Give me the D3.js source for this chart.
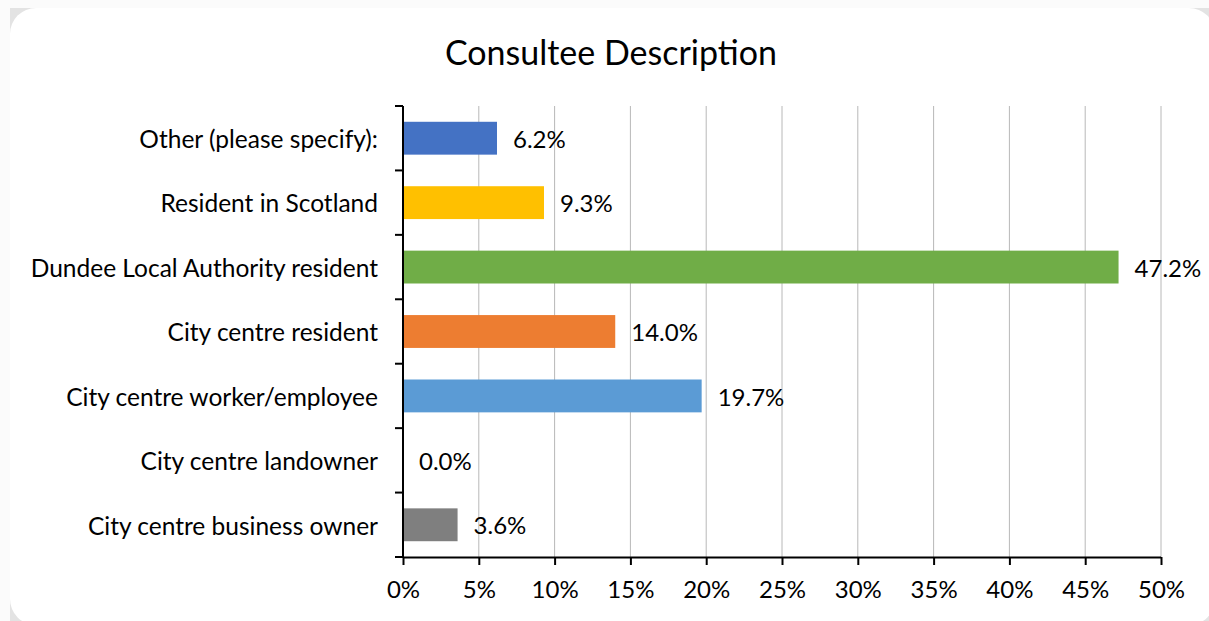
<!DOCTYPE html>
<html>
<head>
<meta charset="utf-8">
<script src="https://cdn.jsdelivr.net/npm/d3@7"></script>
<style>
  html, body { margin: 0; padding: 0; background: #fbfbfb; }
  svg { display: block; }
  text { font-family: Lato, "Open Sans", sans-serif; fill: #000; }
</style>
</head>
<body>
<svg id="chart" width="1209" height="621"></svg>
<script>
// Survey responses: share of consultees by description (top to bottom)
const categories = [
  "Other (please specify):",
  "Resident in Scotland",
  "Dundee Local Authority resident",
  "City centre resident",
  "City centre worker/employee",
  "City centre landowner",
  "City centre business owner"
];
const values = [6.2, 9.3, 47.2, 14.0, 19.7, 0.0, 3.6];
const barColors = ["#4472C4", "#FFC000", "#70AD47", "#ED7D31", "#5B9BD5", "#A5A5A5", "#7F7F7F"];
const xTicks = [0, 5, 10, 15, 20, 25, 30, 35, 40, 45, 50];
const title = "Consultee Description";

const W = 1209, H = 621;
const plot = { left: 403, right: 1161, top: 106, bottom: 557 };
const fontSize = 24;

const svg = d3.select("#chart");

// Card background with rounded corners
svg.append("rect").attr("x", 10).attr("y", 8).attr("width", W).attr("height", H)
  .attr("fill", "#e3e3e3");
svg.append("rect").attr("x", 10).attr("y", 8).attr("width", 1205).attr("height", 617)
  .attr("rx", 26).attr("ry", 26).attr("fill", "#ffffff");

const x = d3.scaleLinear().domain([0, 50]).range([plot.left, plot.right]);
const y = d3.scaleBand().domain(categories).range([plot.top, plot.bottom]).paddingInner(0.49).paddingOuter(0.245);
const yBands = d3.scaleBand().domain(categories).range([plot.top, plot.bottom]);

// Vertical gridlines
svg.append("g").selectAll("line").data(xTicks.slice(1)).join("line")
  .attr("x1", d => x(d)).attr("x2", d => x(d))
  .attr("y1", plot.top).attr("y2", plot.bottom)
  .attr("stroke", "#b8b8b8").attr("stroke-width", 1);

// Bars
svg.append("g").selectAll("rect").data(values).join("rect")
  .attr("x", x(0))
  .attr("y", (d, i) => y(categories[i]))
  .attr("width", d => x(d) - x(0))
  .attr("height", y.bandwidth())
  .attr("fill", (d, i) => barColors[i]);

// Value labels
svg.append("g").selectAll("text").data(values).join("text")
  .attr("x", d => x(d) + 16)
  .attr("y", (d, i) => y(categories[i]) + y.bandwidth() / 2)
  .attr("dy", "0.4em")
  .attr("font-size", fontSize)
  .text(d => d.toFixed(1) + "%");

// Category axis: ticks at band boundaries
const yAxisG = svg.append("g");
yAxisG.append("line").attr("x1", plot.left).attr("x2", plot.left)
  .attr("y1", plot.top).attr("y2", plot.bottom + 1)
  .attr("stroke", "#000").attr("stroke-width", 2);
const bounds = categories.map(c => yBands(c)).concat([plot.bottom]);
yAxisG.selectAll("line.tick").data(bounds).join("line").attr("class", "tick")
  .attr("x1", plot.left - 8).attr("x2", plot.left)
  .attr("y1", d => d).attr("y2", d => d)
  .attr("stroke", "#000").attr("stroke-width", 2);
yAxisG.selectAll("text").data(categories).join("text")
  .attr("x", 378)
  .attr("y", d => yBands(d) + yBands.bandwidth() / 2)
  .attr("dy", "0.4em")
  .attr("text-anchor", "end")
  .attr("font-size", 24.5)
  .text(d => d);

// Value axis
const xAxis = d3.axisBottom(x).tickValues(xTicks).tickFormat(d => d + "%").tickSize(8).tickPadding(16);
const xg = svg.append("g").attr("transform", `translate(0,${plot.bottom})`).call(xAxis);
xg.select(".domain").attr("stroke", "#000").attr("stroke-width", 2).attr("d", `M${plot.left},0.5H${plot.right}`);
xg.selectAll(".tick line").attr("stroke", "#000").attr("stroke-width", 2);
xg.selectAll(".tick text").attr("font-size", fontSize).attr("font-family", "Lato, 'Open Sans', sans-serif").attr("fill", "#000");

// Title
svg.append("text").attr("x", 611).attr("y", 65).attr("text-anchor", "middle")
  .attr("font-size", 34).text(title);
</script>
</body>
</html>
